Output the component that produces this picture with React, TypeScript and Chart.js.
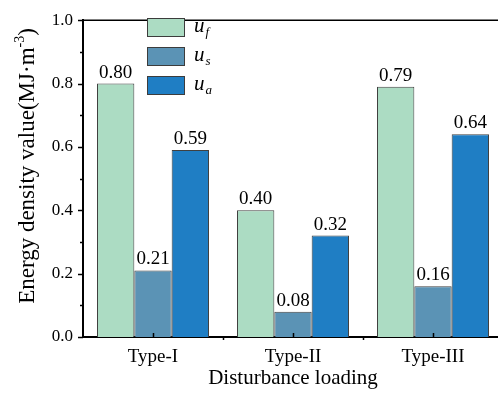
import React, { useEffect, useRef } from 'react';
import { Chart, registerables } from 'chart.js';

Chart.register(...registerables);

const categories = ['Type-I', 'Type-II', 'Type-III'];
const uf = [0.8, 0.4, 0.79];
const us = [0.21, 0.08, 0.16];
const ua = [0.59, 0.32, 0.64];
const seriesSubs = ['f', 's', 'a'];
const colors = ['#acdcc3', '#5b93b5', '#1f7ec4'];
const yTitleMain = 'Energy density value(MJ·m';
const yTitleSup = '-3';
const yTitleEnd = ')';
const xTitle = 'Disturbance loading';

const SERIF = '"Liberation Serif", "Times New Roman", serif';

const decorPlugin = {
  id: 'decor',
  afterDraw(chart: any) {
    const ctx = chart.ctx as CanvasRenderingContext2D;
    const { left, right, top, bottom } = chart.chartArea;
    const xs = chart.scales.x;
    const ys = chart.scales.y;
    ctx.save();
    ctx.strokeStyle = '#000';
    // top frame line
    ctx.lineWidth = 1.5;
    ctx.beginPath();
    ctx.moveTo(left, top);
    ctx.lineTo(right, top);
    ctx.stroke();
    // y ticks (major + minor)
    ctx.lineWidth = 1.5;
    for (let i = 0; i <= 10; i++) {
      const py = Math.round(ys.getPixelForValue(i / 10)) + 0.5;
      const len = i % 2 === 0 ? 5 : 3;
      ctx.beginPath();
      ctx.moveTo(left - len, py);
      ctx.lineTo(left, py);
      ctx.stroke();
    }
    // x ticks
    for (let i = 0; i < categories.length; i++) {
      const px = Math.round(xs.getPixelForValue(i)) + 0.5;
      ctx.beginPath();
      ctx.moveTo(px, bottom);
      ctx.lineTo(px, bottom - 4);
      ctx.stroke();
    }
    for (let i = 1; i < categories.length; i++) {
      const px = Math.round(xs.getPixelForValue(i - 0.5)) + 0.5;
      ctx.beginPath();
      ctx.moveTo(px, bottom);
      ctx.lineTo(px, bottom + 3);
      ctx.stroke();
    }
    // data labels
    ctx.fillStyle = '#000';
    ctx.font = `19px ${SERIF}`;
    ctx.textAlign = 'center';
    ctx.textBaseline = 'alphabetic';
    chart.data.datasets.forEach((ds: any, di: number) => {
      const meta = chart.getDatasetMeta(di);
      meta.data.forEach((el: any, i: number) => {
        ctx.fillText(Number(ds.data[i]).toFixed(2), el.x, el.y - 6);
      });
    });
    // legend
    ctx.textAlign = 'left';
    seriesSubs.forEach((sub, k) => {
      const bx = 147;
      const by = 18 + 29 * k;
      ctx.fillStyle = colors[k];
      ctx.fillRect(bx, by, 37, 18);
      ctx.lineWidth = 1;
      ctx.strokeStyle = '#3c3c3c';
      ctx.strokeRect(bx + 0.5, by + 0.5, 37, 18);
      ctx.fillStyle = '#000';
      ctx.font = `italic 21px ${SERIF}`;
      ctx.fillText('u', 194, by + 14);
      const w = ctx.measureText('u').width;
      ctx.font = `italic 13px ${SERIF}`;
      ctx.fillText(sub, 194 + w + 1, by + 18);
    });
    // y title
    ctx.save();
    ctx.translate(26, 166);
    ctx.rotate(-Math.PI / 2);
    ctx.font = `23px ${SERIF}`;
    const w1 = ctx.measureText(yTitleMain).width;
    const w3 = ctx.measureText(yTitleEnd).width;
    ctx.font = `14px ${SERIF}`;
    const w2 = ctx.measureText(yTitleSup).width;
    let sx = -(w1 + w2 + w3) / 2;
    ctx.font = `23px ${SERIF}`;
    ctx.fillText(yTitleMain, sx, 8);
    sx += w1;
    ctx.font = `14px ${SERIF}`;
    ctx.fillText(yTitleSup, sx, -2);
    sx += w2;
    ctx.font = `23px ${SERIF}`;
    ctx.fillText(yTitleEnd, sx, 8);
    ctx.restore();
    // x title
    ctx.font = `21px ${SERIF}`;
    ctx.textAlign = 'center';
    ctx.fillText(xTitle, (left + right) / 2, 384);
    ctx.restore();
  },
};

export default function App() {
  const ref = useRef<HTMLCanvasElement | null>(null);
  useEffect(() => {
    if (!ref.current) return;
    const chart = new Chart(ref.current, {
      type: 'bar',
      data: {
        labels: categories,
        datasets: [
          { label: 'uf', data: uf, backgroundColor: colors[0] },
          { label: 'us', data: us, backgroundColor: colors[1] },
          { label: 'ua', data: ua, backgroundColor: colors[2] },
        ].map((d) => ({
          ...d,
          borderColor: '#404040',
          borderWidth: 1,
          categoryPercentage: 0.8,
          barPercentage: 1,
        })),
      },
      options: {
        responsive: false,
        animation: false,
        layout: { padding: { top: 11, right: 3, left: 0, bottom: 0 } },
        plugins: { legend: { display: false }, tooltip: { enabled: false } },
        scales: {
          x: {
            grid: { display: false, drawTicks: false },
            border: { display: true, width: 2, color: '#000' },
            ticks: { color: '#000', font: { family: SERIF, size: 19 }, padding: 9 },
            afterFit: (s: any) => {
              s.height = 57;
            },
          },
          y: {
            min: 0,
            max: 1,
            grid: { display: false, drawTicks: false },
            border: { display: true, width: 2, color: '#000' },
            ticks: {
              stepSize: 0.2,
              color: '#000',
              font: { family: SERIF, size: 17 },
              padding: 10,
              callback: (v: any) => Number(v).toFixed(1),
            },
            afterFit: (s: any) => {
              s.width = 83;
            },
          },
        },
      },
      plugins: [decorPlugin],
    });
    return () => chart.destroy();
  }, []);
  return (
    <div
      style={{
        position: 'fixed',
        left: 0,
        top: 0,
        width: 498,
        height: 394,
        overflow: 'hidden',
        background: '#fff',
      }}
    >
      <canvas ref={ref} width={506} height={394} style={{ display: 'block' }} />
    </div>
  );
}
